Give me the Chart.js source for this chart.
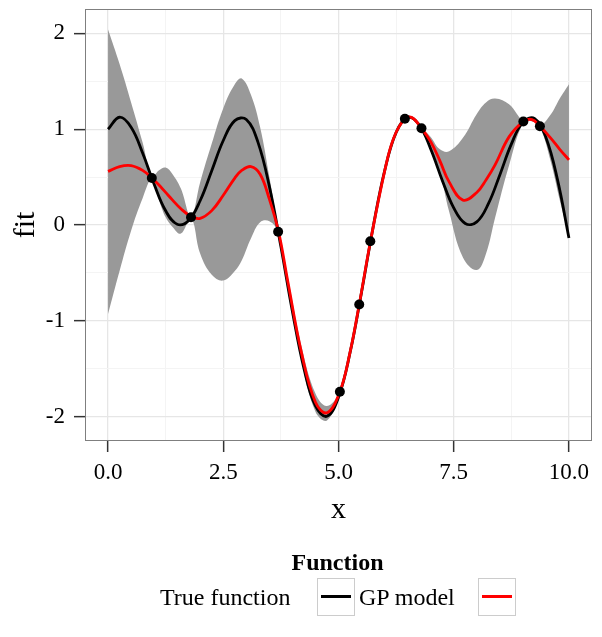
<!DOCTYPE html>
<html>
<head>
<meta charset="utf-8">
<title>GP model fit</title>
<script src="https://cdn.jsdelivr.net/npm/chart.js@4.4.1/dist/chart.umd.min.js"></script>
<style>
  body { margin: 0; background: #fff; }
  #wrap { position: relative; width: 602px; height: 637px; font-family: 'Liberation Serif', 'Times New Roman', serif; color: #000; }
  #chart { position: absolute; left: 0; top: 0; }
  .lg { position: absolute; white-space: nowrap; }
  .lg-title { left: 237px; width: 201px; top: 550px; line-height: 24px; font-size: 24px; font-weight: bold; text-align: center; }
  .lg-text { top: 578px; height: 38px; line-height: 38px; font-size: 24px; }
  .lg-key { top: 578px; width: 38px; height: 38px; box-sizing: border-box; border: 1px solid #cccccc; background: #fff; }
  .lg-key span { position: absolute; left: 3px; right: 3px; top: 16px; height: 3px; }
</style>
</head>
<body>
<div id="wrap">
  <canvas id="chart" width="602" height="637"></canvas>
  <div class="lg lg-title">Function</div>
  <div class="lg lg-text" style="left:160px">True function</div>
  <div class="lg lg-key" style="left:317px"><span style="background:#000"></span></div>
  <div class="lg lg-text" style="left:359px">GP model</div>
  <div class="lg lg-key" style="left:478px"><span style="background:#ff0000"></span></div>
</div>
<script>
// true function, sampled along x
const trueX = [0, 0.25, 0.5, 0.75, 1, 1.25, 1.5, 1.75, 2, 2.25, 2.5, 2.75, 3, 3.25, 3.5, 3.75,
  4, 4.25, 4.5, 4.75, 5, 5.25, 5.5, 5.75, 6, 6.25, 6.5, 6.75, 7, 7.25, 7.5, 7.75,
  8, 8.25, 8.5, 8.75, 9, 9.25, 9.5, 9.75, 10];
const trueY = [1.00, 1.125, 1.020, 0.752, 0.425, 0.148, 0.008, 0.048, 0.256, 0.567, 0.882, 1.090,
  1.101, 0.868, 0.403, -0.225, -0.902, -1.497, -1.889, -1.997, -1.798, -1.334, -0.701, -0.025,
  0.564, 0.965, 1.123, 1.045, 0.794, 0.468, 0.178, 0.016, 0.032, 0.220, 0.523, 0.844, 1.072,
  1.113, 0.914, 0.476, -0.136];

// GP model: mean and band
const gpX = [0, 0.25, 0.5, 0.75, 0.95, 1.1, 1.25, 1.4, 1.58, 1.8, 2.0, 2.25, 2.5, 2.75, 2.9,
  3.1, 3.3, 3.5, 3.7, 3.9, 4.2, 4.5, 4.75, 5.03, 5.25, 5.45, 5.69, 6.0, 6.2, 6.44,
  6.6, 6.8, 7.0, 7.2, 7.4, 7.7, 8.0, 8.2, 8.4, 8.7, 9.01, 9.2, 9.37, 9.6, 9.8, 10];
const gpMean = [0.56, 0.61, 0.62, 0.57, 0.49, 0.42, 0.34, 0.26, 0.17, 0.09, 0.07, 0.15, 0.31, 0.49, 0.57,
  0.61, 0.53, 0.27, -0.07, -0.59, -1.34, -1.85, -1.96, -1.74, -1.33, -0.83, -0.18, 0.56, 0.91, 1.11,
  1.12, 1.01, 0.87, 0.67, 0.45, 0.26, 0.34, 0.47, 0.63, 0.92, 1.08, 1.10, 1.03, 0.91, 0.79, 0.68];
const gpUpper = [2.04, 1.68, 1.28, 0.86, 0.50, 0.57, 0.60, 0.53, 0.38, 0.09, 0.45, 0.85, 1.22, 1.47, 1.53,
  1.36, 1.02, 0.50, -0.06, -0.54, -1.27, -1.76, -1.89, -1.73, -1.31, -0.82, -0.17, 0.58, 0.93, 1.12,
  1.13, 1.02, 0.92, 0.79, 0.77, 0.91, 1.16, 1.28, 1.32, 1.26, 1.09, 1.12, 1.04, 1.15, 1.32, 1.47];
const gpLower = [-0.93, -0.48, -0.06, 0.28, 0.48, 0.27, 0.08, -0.02, -0.09, 0.07, -0.30, -0.52, -0.58, -0.48, -0.37,
  -0.14, 0.03, 0.04, -0.08, -0.64, -1.42, -1.95, -2.04, -1.75, -1.35, -0.84, -0.19, 0.54, 0.89, 1.10,
  1.11, 1.00, 0.81, 0.55, 0.14, -0.34, -0.47, -0.30, 0.08, 0.62, 1.07, 1.08, 1.02, 0.67, 0.26, -0.12];

// observations
const obsX = [0.95, 1.8, 3.69, 5.03, 5.45, 5.69, 6.44, 6.8, 9.01, 9.37];
const obsY = [0.49, 0.08, -0.07, -1.74, -0.83, -0.17, 1.11, 1.01, 1.08, 1.03];

// axes
const xTicks = [0, 2.5, 5, 7.5, 10];
const xTickLabels = ['0.0', '2.5', '5.0', '7.5', '10.0'];
const xMinor = [1.25, 3.75, 6.25, 8.75];
const yTicks = [-2, -1, 0, 1, 2];
const yTickLabels = ['-2', '-1', '0', '1', '2'];
const yMinor = [-1.5, -0.5, 0.5, 1.5];

const pts = (xs, ys) => xs.map((x, i) => ({ x: x, y: ys[i] }));

function axisOpts(major, labels, minor) {
  const isMajor = v => major.indexOf(v) >= 0;
  return {
    type: 'linear',
    afterBuildTicks: s => {
      s.ticks = major.concat(minor).sort((a, b) => a - b).map(v => ({ value: v }));
    },
    grid: {
      color: c => isMajor(c.tick.value) ? '#e6e6e6' : '#f4f4f4',
      lineWidth: c => isMajor(c.tick.value) ? 1.3 : 1,
      tickLength: 11,
      tickWidth: 1.5,
      tickColor: c => isMajor(c.tick.value) ? '#333333' : 'rgba(0,0,0,0)'
    },
    border: { display: false },
    ticks: {
      autoSkip: false,
      maxRotation: 0,
      color: '#000',
      font: { size: 23 },
      callback: v => isMajor(v) ? labels[major.indexOf(v)] : ''
    }
  };
}

const panelBorder = {
  id: 'panelBorder',
  afterDraw(chart) {
    const { ctx, chartArea: a } = chart;
    ctx.save();
    ctx.strokeStyle = '#7f7f7f';
    ctx.lineWidth = 1;
    ctx.strokeRect(a.left + 0.5, a.top + 0.5, a.right - a.left - 1, a.bottom - a.top - 1);
    ctx.restore();
  }
};

Chart.defaults.font.family = "'Liberation Serif', 'Times New Roman', serif";

const xAxis = axisOpts(xTicks, xTickLabels, xMinor);
xAxis.min = -0.5;
xAxis.max = 10.5;
xAxis.afterFit = s => { s.height = 90; s.paddingLeft = 0; s.paddingRight = 0; };
xAxis.ticks.padding = 7;
xAxis.title = { display: true, text: 'x', color: '#000', font: { size: 30 }, padding: { top: 0, bottom: 3 } };

const yAxis = axisOpts(yTicks, yTickLabels, yMinor);
yAxis.min = -2.255;
yAxis.max = 2.255;
yAxis.afterFit = s => { s.width = 85; s.paddingTop = 0; s.paddingBottom = 0; };
yAxis.ticks.padding = 9;
yAxis.title = { display: true, text: 'fit', color: '#000', font: { size: 30 }, padding: { top: 8, bottom: 0 } };

new Chart(document.getElementById('chart'), {
  type: 'line',
  data: {
    datasets: [
      {
        type: 'scatter',
        data: pts(obsX, obsY),
        backgroundColor: '#000',
        borderWidth: 0,
        pointRadius: 5
      },
      {
        data: pts(gpX, gpMean),
        borderColor: '#ff0000',
        borderWidth: 2.8,
        pointRadius: 0,
        tension: 0.4,
        fill: false
      },
      {
        data: pts(trueX, trueY),
        borderColor: '#000',
        borderWidth: 2.8,
        pointRadius: 0,
        tension: 0.4,
        fill: false
      },
      {
        data: pts(gpX, gpUpper),
        borderColor: 'rgba(0,0,0,0)',
        borderWidth: 0,
        pointRadius: 0,
        tension: 0.4,
        fill: false
      },
      {
        data: pts(gpX, gpLower),
        borderColor: 'rgba(0,0,0,0)',
        backgroundColor: '#999999',
        borderWidth: 0,
        pointRadius: 0,
        tension: 0.4,
        fill: '-1'
      }
    ]
  },
  options: {
    responsive: false,
    animation: false,
    layout: { padding: { top: 9, right: 10, left: 0, bottom: 106 } },
    plugins: {
      legend: { display: false },
      tooltip: { enabled: false }
    },
    scales: { x: xAxis, y: yAxis }
  },
  plugins: [panelBorder]
});
</script>
</body>
</html>
